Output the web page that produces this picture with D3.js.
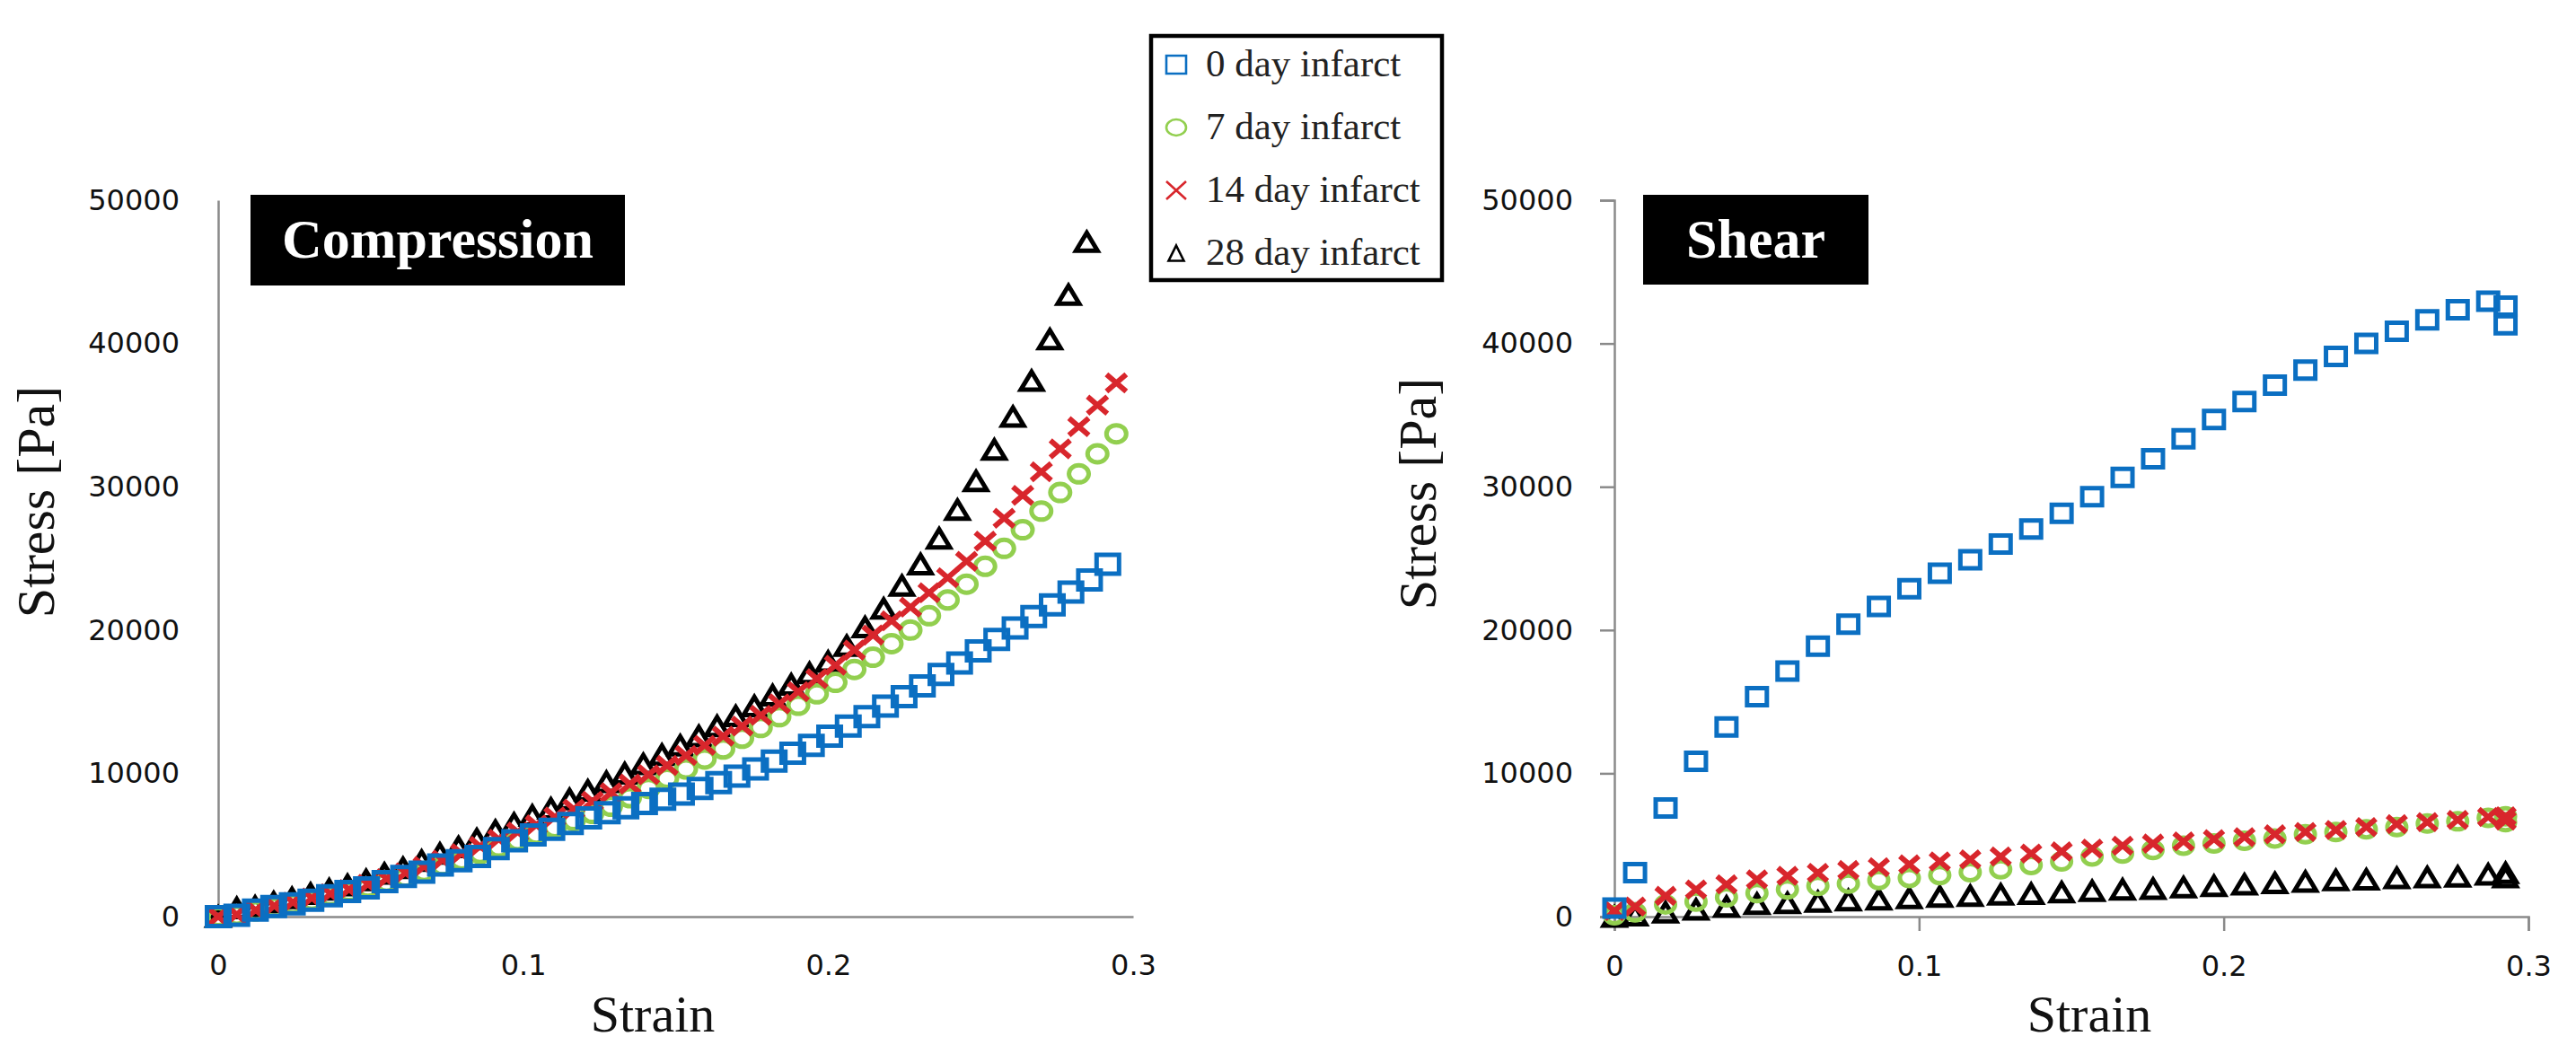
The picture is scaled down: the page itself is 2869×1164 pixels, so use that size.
<!DOCTYPE html>
<html>
<head>
<meta charset="utf-8">
<script src="https://cdn.jsdelivr.net/npm/d3@7"></script>
<style>
    body { margin: 0; background: #fff; }
    svg { display: block; }
</style>
</head>
<body>
<div id="chart"></div>
<script>
var width = 2869;
var height = 1164;

var seriesNames = ["0 day infarct", "7 day infarct", "14 day infarct", "28 day infarct"];
var seriesColors = ["#0b6fc2", "#92cf4f", "#d8262c", "#000000"];
var seriesShapes = ["square", "circle", "cross", "triangle"];
var drawOrder = [3, 1, 2, 0]; // 28 day at the back, 0 day on top

var yTicks = [0, 10000, 20000, 30000, 40000, 50000];
var yTickLabels = ["0", "10000", "20000", "30000", "40000", "50000"];
var xTicks = [0, 0.1, 0.2, 0.3];
var xTickLabels = ["0", "0.1", "0.2", "0.3"];

// compression: [strain, stress Pa]
var comp0 = [[0,0],[0.0061,100],[0.0122,450],[0.0182,700],[0.0243,900],[0.0304,1150],[0.0365,1450],[0.0425,1750],[0.0486,2000],[0.0547,2450],
    [0.0608,2800],[0.0668,3100],[0.0729,3600],[0.0790,3900],[0.0851,4200],[0.0912,4750],[0.0972,5300],[0.1033,5700],[0.1094,6100],[0.1155,6500],
    [0.1215,6900],[0.1276,7250],[0.1337,7600],[0.1398,7900],[0.1458,8200],[0.1519,8550],[0.1580,8950],[0.1641,9350],[0.1701,9800],[0.1762,10300],
    [0.1823,10850],[0.1884,11400],[0.1945,11950],[0.2005,12600],[0.2066,13300],[0.2127,13950],[0.2188,14700],[0.2249,15350],[0.2309,16100],[0.2370,16900],
    [0.2431,17700],[0.2492,18550],[0.2553,19350],[0.2613,20150],[0.2674,20950],[0.2735,21750],[0.2796,22650],[0.2857,23500],[0.2917,24600]];
var comp7 = [[0,0],[0.0061,100],[0.0123,400],[0.0184,650],[0.0245,900],[0.0307,1150],[0.0368,1450],[0.0429,1750],[0.0491,2050],[0.0552,2400],
    [0.0614,2750],[0.0675,3150],[0.0736,3550],[0.0798,3950],[0.0859,4400],[0.0920,4850],[0.0982,5300],[0.1043,5750],[0.1104,6200],[0.1166,6700],
    [0.1227,7200],[0.1288,7700],[0.1350,8300],[0.1411,8950],[0.1472,9650],[0.1534,10300],[0.1595,11000],[0.1656,11700],[0.1718,12450],[0.1779,13200],
    [0.1840,13950],[0.1902,14750],[0.1963,15550],[0.2024,16350],[0.2086,17250],[0.2147,18100],[0.2208,19050],[0.2270,20000],[0.2331,21000],[0.2392,22100],
    [0.2454,23200],[0.2515,24450],[0.2577,25700],[0.2638,27000],[0.2699,28300],[0.2761,29600],[0.2822,30900],[0.2883,32300],[0.2945,33700]];
var comp14 = [[0,0],[0.0061,150],[0.0123,450],[0.0184,750],[0.0245,1000],[0.0307,1300],[0.0368,1600],[0.0429,1900],[0.0491,2250],[0.0552,2650],
    [0.0614,3050],[0.0675,3500],[0.0736,3950],[0.0798,4400],[0.0859,4900],[0.0920,5400],[0.0982,5900],[0.1043,6400],[0.1104,6950],[0.1166,7500],
    [0.1227,8050],[0.1288,8650],[0.1350,9250],[0.1411,9900],[0.1472,10550],[0.1534,11250],[0.1595,11950],[0.1656,12600],[0.1718,13300],[0.1779,14050],
    [0.1840,14850],[0.1902,15700],[0.1963,16600],[0.2024,17550],[0.2086,18600],[0.2147,19650],[0.2208,20650],[0.2270,21600],[0.2331,22600],[0.2392,23650],
    [0.2454,24800],[0.2515,26200],[0.2577,27800],[0.2638,29400],[0.2699,31050],[0.2761,32650],[0.2822,34200],[0.2883,35700],[0.2945,37250]];
var comp28 = [[0,0],[0.0061,600],[0.0121,700],[0.0182,1000],[0.0242,1300],[0.0303,1600],[0.0364,1900],[0.0424,2200],[0.0485,2550],[0.0545,3000],
    [0.0606,3400],[0.0667,3900],[0.0727,4400],[0.0788,4850],[0.0848,5400],[0.0909,6000],[0.0970,6500],[0.1030,7050],[0.1091,7550],[0.1152,8200],
    [0.1212,8800],[0.1273,9400],[0.1333,10000],[0.1394,10650],[0.1455,11300],[0.1515,11950],[0.1576,12600],[0.1636,13300],[0.1697,14000],[0.1758,14700],
    [0.1818,15450],[0.1879,16200],[0.1939,17000],[0.2000,17800],[0.2061,18900],[0.2121,20200],[0.2182,21500],[0.2242,23100],[0.2303,24600],[0.2364,26400],
    [0.2424,28400],[0.2485,30400],[0.2545,32600],[0.2606,34900],[0.2667,37400],[0.2727,40300],[0.2788,43400],[0.2848,47100]];

// shear: [strain, stress Pa]
var shear0 = [[0,600],[0.0068,3070],[0.0168,7580],[0.0268,10840],[0.0368,13240],[0.0468,15350],[0.0568,17140],[0.0668,18870],[0.0768,20410],[0.0868,21650],
    [0.0968,22880],[0.1068,23970],[0.1168,24900],[0.1268,26000],[0.1368,27050],[0.1468,28150],[0.1568,29300],[0.1668,30650],[0.1768,31950],[0.1868,33350],
    [0.1968,34700],[0.2068,35950],[0.2168,37100],[0.2268,38150],[0.2368,39100],[0.2468,40000],[0.2568,40850],[0.2668,41650],[0.2768,42350],[0.2868,42950],
    [0.2925,42600],[0.2925,41300]];
var shear7 = [[0,100],[0.0068,300],[0.0168,850],[0.0268,1050],[0.0368,1350],[0.0468,1650],[0.0568,1900],[0.0668,2150],[0.0768,2300],[0.0868,2550],
    [0.0968,2700],[0.1068,2900],[0.1168,3100],[0.1268,3300],[0.1368,3600],[0.1468,3850],[0.1568,4200],[0.1668,4400],[0.1768,4650],[0.1868,4950],
    [0.1968,5100],[0.2068,5300],[0.2168,5450],[0.2268,5750],[0.2368,5900],[0.2468,6100],[0.2568,6250],[0.2668,6500],[0.2768,6650],[0.2868,6900],
    [0.2925,7000],[0.2925,6600]];
var shear14 = [[0,400],[0.0068,700],[0.0168,1450],[0.0268,1900],[0.0368,2250],[0.0468,2600],[0.0568,2850],[0.0668,3050],[0.0768,3250],[0.0868,3450],
    [0.0968,3650],[0.1068,3850],[0.1168,4000],[0.1268,4200],[0.1368,4400],[0.1468,4550],[0.1568,4750],[0.1668,4950],[0.1768,5100],[0.1868,5250],
    [0.1968,5400],[0.2068,5550],[0.2168,5750],[0.2268,5900],[0.2368,6050],[0.2468,6250],[0.2568,6450],[0.2668,6600],[0.2768,6750],[0.2868,6950],
    [0.2925,7000],[0.2925,6700]];
var shear28 = [[0,0],[0.0068,100],[0.0168,300],[0.0268,500],[0.0368,700],[0.0468,900],[0.0568,950],[0.0668,1050],[0.0768,1150],[0.0868,1200],
    [0.0968,1300],[0.1068,1400],[0.1168,1450],[0.1268,1550],[0.1368,1600],[0.1468,1700],[0.1568,1800],[0.1668,1900],[0.1768,1950],[0.1868,2050],
    [0.1968,2150],[0.2068,2250],[0.2168,2350],[0.2268,2450],[0.2368,2550],[0.2468,2600],[0.2568,2700],[0.2668,2750],[0.2768,2800],[0.2868,2950],
    [0.2925,3050],[0.2925,2750]];

var axisColor = "#8a8a8a";

var svg = d3.select("#chart").append("svg")
    .attr("width", width)
    .attr("height", height)
    .style("background", "#fff");

// marker outline of a given size, centred on 0,0
function markerPath(shape, w, h) {
    var hw = w / 2, hh = h / 2;
    if (shape == "square") return "M" + (-hw) + "," + (-hh) + "h" + w + "v" + h + "h" + (-w) + "Z";
    if (shape == "circle") return "M" + (-hw) + ",0a" + hw + "," + hh + " 0 1,0 " + w + ",0a" + hw + "," + hh + " 0 1,0 " + (-w) + ",0Z";
    if (shape == "cross") return "M" + (-hw) + "," + (-hh) + "L" + hw + "," + hh + "M" + hw + "," + (-hh) + "L" + (-hw) + "," + hh;
    return "M0," + (-hh) + "L" + hw + "," + hh + "L" + (-hw) + "," + hh + "Z";
}

var y = d3.scaleLinear().domain([0, 50000]).range([1021, 223]);

function drawPanel(p) {
    var x = d3.scaleLinear().domain([0, 0.3]).range(p.xRange);
    var g = svg.append("g");

    // axes
    var yAxis = d3.axisLeft(y).tickValues(yTicks).tickFormat((d, i) => yTickLabels[i])
        .tickSize(p.tickLen).tickSizeOuter(p.tickLen).tickPadding(p.yPad);
    var gy = g.append("g").attr("transform", "translate(" + p.xRange[0] + ",0)").call(yAxis);
    var xAxis = d3.axisBottom(x).tickValues(xTicks).tickFormat((d, i) => xTickLabels[i])
        .tickSize(p.tickLen).tickSizeOuter(p.tickLen).tickPadding(p.xPad);
    var gx = g.append("g").attr("transform", "translate(0," + y(0) + ")").call(xAxis);
    [gx, gy].forEach(a => {
        a.selectAll("path, line").attr("stroke", axisColor).attr("stroke-width", 2.5);
        a.selectAll("text").attr("font-family", "'DejaVu Sans', sans-serif").attr("font-size", 32).attr("fill", "#111");
    });

    // points
    drawOrder.forEach(s => {
        var shape = seriesShapes[s];
        var size = p.markSize[s];
        g.append("g").selectAll("path")
            .data(p.data[s]).enter().append("path")
            .attr("transform", d => "translate(" + x(d[0]) + "," + y(d[1]) + ")")
            .attr("d", markerPath(shape, size[0], size[1]))
            .attr("fill", "none")
            .attr("stroke", seriesColors[s])
            .attr("stroke-width", shape == "cross" ? 6 : 5);
    });

    // title box
    g.append("rect").attr("x", p.box[0]).attr("y", p.box[1]).attr("width", p.box[2]).attr("height", p.box[3]).attr("fill", "#000");
    g.append("text").attr("x", p.box[0] + p.box[2] / 2).attr("y", 287)
        .attr("text-anchor", "middle").attr("font-family", "'Liberation Serif', 'Times New Roman', serif")
        .attr("font-weight", "bold").attr("font-size", 62).attr("fill", "#fff").text(p.title);

    // axis titles
    g.append("text").attr("transform", "translate(" + p.yTitle[0] + "," + p.yTitle[1] + ") rotate(-90)")
        .attr("text-anchor", "middle").attr("font-family", "'Liberation Serif', 'Times New Roman', serif")
        .attr("font-size", 60).attr("fill", "#111").text("Stress [Pa]");
    g.append("text").attr("x", p.xTitle).attr("y", 1149)
        .attr("text-anchor", "middle").attr("font-family", "'Liberation Serif', 'Times New Roman', serif")
        .attr("font-size", 58).attr("fill", "#111").text("Strain");
}

drawPanel({
    xRange: [243, 1262], tickLen: 0, yPad: 43, xPad: 42,
    data: [comp0, comp7, comp14, comp28],
    markSize: [[25, 21], [22, 19], [22, 19], [24, 20]],
    box: [279, 217, 417, 101], title: "Compression",
    yTitle: [60, 559], xTitle: 727
});
drawPanel({
    xRange: [1798, 2816], tickLen: 16, yPad: 30, xPad: 27,
    data: [shear0, shear7, shear14, shear28],
    markSize: [[22, 19], [21, 18], [21, 18], [24, 20]],
    box: [1830, 217, 251, 100], title: "Shear",
    yTitle: [1599, 550], xTitle: 2327
});

// legend
var legend = svg.append("g");
legend.append("rect").attr("x", 1282).attr("y", 40).attr("width", 324).attr("height", 272)
    .attr("fill", "#fff").attr("stroke", "#000").attr("stroke-width", 4.5);
var legendSize = [[22, 20], [22, 18], [22, 20], [17, 17]];
seriesNames.forEach((name, i) => {
    var row = legend.append("g").attr("transform", "translate(1310," + (72 + i * 70) + ")");
    row.append("path").attr("d", markerPath(seriesShapes[i], legendSize[i][0], legendSize[i][1]))
        .attr("fill", "none").attr("stroke", seriesColors[i]).attr("stroke-width", 2.6);
    row.append("text").attr("x", 33).attr("y", 13)
        .attr("font-family", "'Liberation Serif', 'Times New Roman', serif")
        .attr("font-size", 43).attr("fill", "#222").text(name);
});
</script>
</body>
</html>
